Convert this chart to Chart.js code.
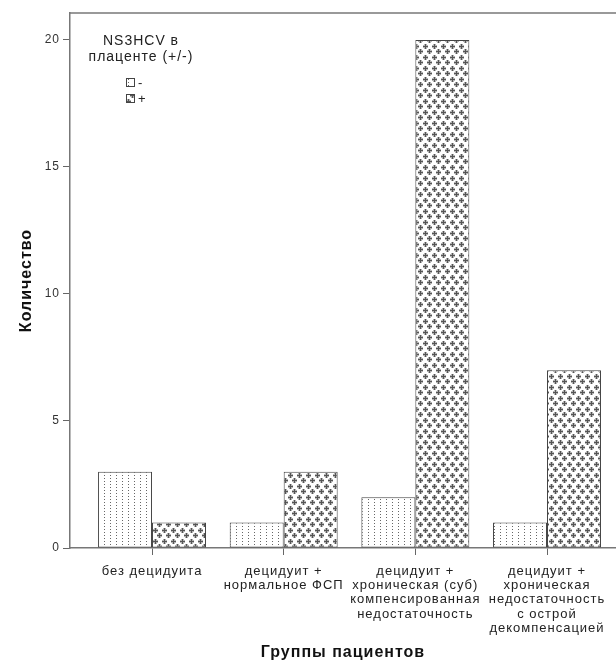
<!DOCTYPE html>
<html>
<head>
<meta charset="utf-8">
<title>NS3HCV в плаценте</title>
<script src="https://cdn.jsdelivr.net/npm/chart.js"></script>
<style>
    body { margin: 0; background: #fff; overflow: hidden; }
    canvas { display: block; }
</style>
</head>
<body>
<canvas id="chart" width="616" height="666"></canvas>
<script>
    // groups of patients (x categories), each label split into lines
    const groups = [
        ['без децидуита'],
        ['децидуит +', 'нормальное ФСП'],
        ['децидуит +', 'хроническая (суб)', 'компенсированная', 'недостаточность'],
        ['децидуит +', 'хроническая', 'недостаточность', 'с острой', 'декомпенсацией']
    ];
    const seriesNames = ['-', '+'];
    const negative = [3, 1, 2, 1];
    const positive = [1, 3, 20, 7];
    const yTicks = [0, 5, 10, 15, 20];
    const legendTitle = ['NS3HCV в', 'плаценте (+/-)'];

    const FONT = '"Liberation Sans", Arial, sans-serif';
    Chart.defaults.font.family = FONT;
    Chart.defaults.color = '#222';

    const canvas = document.getElementById('chart');
    const ctx = canvas.getContext('2d');

    function makePattern(w, h, draw) {
        const c = document.createElement('canvas');
        c.width = w;
        c.height = h;
        const g = c.getContext('2d');
        g.fillStyle = '#fff';
        g.fillRect(0, 0, w, h);
        draw(g);
        return ctx.createPattern(c, 'repeat');
    }

    const dots = makePattern(6, 3, g => {
        g.fillStyle = '#666';
        g.fillRect(2, 1, 1, 1);
    });
    const crosses = makePattern(9, 11, g => {
        g.fillStyle = '#b4b4b4';
        g.fillRect(0, 1, 5, 3); g.fillRect(1, 0, 3, 5);
        g.fillRect(4, 6, 5, 3); g.fillRect(5, 5, 3, 5);
        g.fillStyle = '#555';
        g.fillRect(0, 2, 5, 1); g.fillRect(2, 0, 1, 5);
        g.fillRect(4, 7, 5, 1); g.fillRect(6, 5, 1, 5);
    });

    // SPSS style text is a bit loose
    const spacing = {
        id: 'spacing',
        beforeUpdate(chart) { chart.ctx.letterSpacing = '1px'; },
        beforeDraw(chart) { chart.ctx.letterSpacing = '1px'; }
    };

    const legendBox = {
        id: 'legendBox',
        afterDraw(chart) {
            const c = chart.ctx;
            const area = chart.chartArea;
            c.save();
            // top frame line
            c.strokeStyle = '#777';
            c.lineWidth = 1.5;
            c.beginPath();
            c.moveTo(area.left, area.top);
            c.lineTo(area.right, area.top);
            c.stroke();

            const cx = area.left + 71;
            c.fillStyle = '#222';
            c.textAlign = 'center';
            c.textBaseline = 'middle';
            c.font = '14px ' + FONT;
            legendTitle.forEach((t, i) => c.fillText(t, cx, area.top + 28 + i * 16));

            chart.data.datasets.forEach((ds, i) => {
                const x = cx - 15, y = area.top + 65 + i * 16;
                c.fillStyle = ds.backgroundColor;
                c.fillRect(x, y, 9, 9);
                c.strokeStyle = '#444';
                c.lineWidth = 1;
                c.strokeRect(x + 0.5, y + 0.5, 8, 8);
                c.fillStyle = '#222';
                c.textAlign = 'left';
                c.font = '13px ' + FONT;
                c.fillText(ds.label, x + 12, y + 5);
            });
            c.restore();
        }
    };

    new Chart(ctx, {
        type: 'bar',
        data: {
            datasets: [
                {
                    label: seriesNames[0],
                    data: negative.map((v, i) => ({ x: i, y: v })),
                    backgroundColor: dots,
                    borderColor: '#444',
                    borderWidth: 1,
                    borderSkipped: false
                },
                {
                    label: seriesNames[1],
                    data: positive.map((v, i) => ({ x: i, y: v })),
                    backgroundColor: crosses,
                    borderColor: '#444',
                    borderWidth: 1,
                    borderSkipped: false
                }
            ]
        },
        options: {
            responsive: false,
            animation: false,
            barPercentage: 1,
            categoryPercentage: 0.82,
            layout: { padding: { top: 13, left: 0, right: 0, bottom: 0 } },
            plugins: {
                legend: { display: false },
                tooltip: { enabled: false }
            },
            scales: {
                x: {
                    type: 'linear',
                    min: -0.623,
                    max: 3.524,
                    offset: false,
                    bounds: 'data',
                    grid: { offset: false, drawOnChartArea: false, tickLength: 7, color: '#666' },
                    border: { color: '#777', width: 1.5 },
                    ticks: {
                        autoSkip: false,
                        maxRotation: 0,
                        padding: 9,
                        color: '#222',
                        font: { size: 13, lineHeight: 1.1 },
                        callback: v => groups[v]
                    },
                    afterBuildTicks: s => { s.ticks = groups.map((g, i) => ({ value: i })); },
                    afterFit: s => { s.height = 118; },
                    title: {
                        display: true,
                        text: 'Группы пациентов',
                        color: '#111',
                        font: { size: 16, weight: 'bold' },
                        padding: { top: 0, bottom: 4 }
                    }
                },
                y: {
                    min: 0,
                    max: 21.06,
                    bounds: 'data',
                    grid: { drawOnChartArea: false, tickLength: 7, color: '#666' },
                    border: { color: '#777', width: 1.5 },
                    ticks: { padding: 3, color: '#333', font: { size: 12 } },
                    afterBuildTicks: s => { s.ticks = yTicks.map(v => ({ value: v })); },
                    afterFit: s => { s.width = 70; },
                    title: {
                        display: true,
                        text: 'Количество',
                        color: '#111',
                        font: { size: 16, weight: 'bold' },
                        padding: { top: 17, bottom: 0 }
                    }
                }
            }
        },
        plugins: [spacing, legendBox]
    });
</script>
</body>
</html>
